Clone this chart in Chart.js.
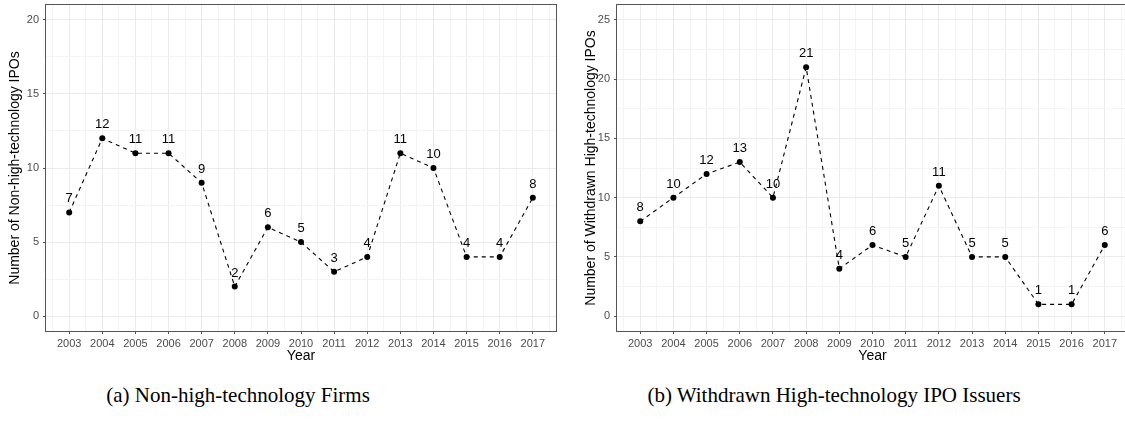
<!DOCTYPE html>
<html>
<head>
<meta charset="utf-8">
<script src="https://cdn.jsdelivr.net/npm/chart.js@4/dist/chart.umd.min.js"></script>
<style>
  html, body { margin: 0; padding: 0; background: #fff; }
  body { width: 1125px; height: 421px; overflow: hidden; position: relative; }
  canvas { position: absolute; top: 0; }
  #chartA { left: 0; }
  #chartB { left: 560px; }
  .caption {
    position: absolute; top: 385px; line-height: 1;
    font-family: 'Liberation Serif', 'DejaVu Serif', serif; font-size: 21px;
    color: #000; white-space: nowrap; transform: translateX(-50%);
  }
</style>
</head>
<body>
<canvas id="chartA" width="560" height="370"></canvas>
<canvas id="chartB" width="572" height="370"></canvas>
<div class="caption" style="left:238px">(a) Non-high-technology Firms</div>
<div class="caption" style="left:834px">(b) Withdrawn High-technology IPO Issuers</div>

<script>
// Yearly counts, 2003-2017
const years = [2003, 2004, 2005, 2006, 2007, 2008, 2009, 2010, 2011, 2012, 2013, 2014, 2015, 2016, 2017];
const nonHighTechIPOs = [7, 12, 11, 11, 9, 2, 6, 5, 3, 4, 11, 10, 4, 4, 8];
const withdrawnHighTechIPOs = [8, 10, 12, 13, 10, 21, 4, 6, 5, 11, 5, 5, 1, 1, 6];

// Axis tick labels
const xTickLabels = years;
const yTickLabelsA = [0, 5, 10, 15, 20];
const yTickLabelsB = [0, 5, 10, 15, 20, 25];

const SANS = "'Liberation Sans', Arial, Helvetica, sans-serif";
Chart.defaults.font.family = SANS;

// Major ticks carry labels; minor ticks sit halfway between them (grid only)
function withMinor(major, extendBefore, extendAfter) {
  const step = major[1] - major[0];
  const all = [];
  if (extendBefore) all.push(major[0] - step / 2);
  major.forEach((v, i) => {
    all.push(v);
    if (i < major.length - 1 || extendAfter) all.push(v + step / 2);
  });
  return all;
}

// Value labels above each point
const valueLabels = {
  id: 'valueLabels',
  afterDatasetsDraw(chart) {
    const { ctx } = chart;
    const meta = chart.getDatasetMeta(0);
    const pts = chart.data.datasets[0].data;
    ctx.save();
    ctx.font = '13px ' + SANS;
    ctx.fillStyle = '#000';
    ctx.textAlign = 'center';
    ctx.textBaseline = 'alphabetic';
    meta.data.forEach((el, i) => ctx.fillText(String(pts[i].y), el.x, el.y - 10));
    ctx.restore();
  }
};

// Panel frame (theme_bw style)
const panelFrame = {
  id: 'panelFrame',
  afterDraw(chart) {
    const { ctx, chartArea: a } = chart;
    ctx.save();
    ctx.strokeStyle = '#555';
    ctx.lineWidth = 1;
    ctx.strokeRect(Math.round(a.left) - 0.5, Math.round(a.top) - 0.5,
                   Math.round(a.right - a.left) + 1, Math.round(a.bottom - a.top) + 1);
    ctx.restore();
  }
};

function noEdgePadding(s) {
  s.paddingTop = 0; s.paddingBottom = 0; s.paddingLeft = 0; s.paddingRight = 0;
}

function makeChart(id, values, yLabels, yMin, yMax, yTitle, opts) {
  const xMajor = new Set(xTickLabels);
  const yMajor = new Set(yLabels);
  const xAll = withMinor(xTickLabels, true, true);
  const yAll = withMinor(yLabels, false, false);

  const gridFor = (majorSet) => ({
    color: (c) => c.tick && majorSet.has(c.tick.value) ? '#EBEBEB' : '#F4F4F4',
    lineWidth: 1,
    drawTicks: true,
    tickLength: 3,
    tickColor: (c) => c.tick && majorSet.has(c.tick.value) ? '#555' : 'rgba(0,0,0,0)',
    tickWidth: 1
  });

  return new Chart(document.getElementById(id), {
    type: 'line',
    data: {
      datasets: [{
        data: years.map((yr, i) => ({ x: yr, y: values[i] })),
        borderColor: '#000',
        borderWidth: 1.1,
        borderDash: [4, 4],
        tension: 0,
        pointRadius: 3,
        pointBackgroundColor: '#000',
        pointBorderColor: '#000',
        pointBorderWidth: 0,
        clip: false
      }]
    },
    options: {
      responsive: false,
      devicePixelRatio: 1,
      animation: false,
      events: [],
      layout: { padding: { top: 5, right: opts.padRight, left: 0, bottom: 0 } },
      plugins: { legend: { display: false }, tooltip: { enabled: false } },
      scales: {
        x: {
          type: 'linear',
          min: 2002.3, max: 2017.7,
          afterBuildTicks: (s) => { s.ticks = xAll.map(v => ({ value: v })); },
          afterFit: (s) => { s.height = 39; noEdgePadding(s); },
          border: { display: false },
          grid: gridFor(xMajor),
          ticks: {
            autoSkip: false, maxRotation: 0, padding: 3,
            color: '#4D4D4D', font: { size: 11 },
            callback: (v) => xMajor.has(v) ? String(v) : ''
          },
          title: {
            display: true, text: 'Year', color: '#000',
            font: { size: 14 }, padding: { top: 0, bottom: 5 }
          }
        },
        y: {
          type: 'linear',
          min: yMin, max: yMax,
          afterBuildTicks: (s) => { s.ticks = yAll.map(v => ({ value: v })); },
          afterFit: (s) => { s.width = opts.yWidth; noEdgePadding(s); },
          border: { display: false },
          grid: gridFor(yMajor),
          ticks: {
            autoSkip: false, padding: 4,
            color: '#4D4D4D', font: { size: 11 },
            callback: (v) => yMajor.has(v) ? String(v) : ''
          },
          title: {
            display: true, text: yTitle, color: '#000',
            font: { size: 14 }, padding: { top: opts.titlePad, bottom: 0 }
          }
        }
      }
    },
    plugins: [valueLabels, panelFrame]
  });
}

makeChart('chartA', nonHighTechIPOs, yTickLabelsA, -1, 21,
  'Number of Non-high-technology IPOs', { yWidth: 46, padRight: 1, titlePad: 7 });
makeChart('chartB', withdrawnHighTechIPOs, yTickLabelsB, -1.25, 26.25,
  'Number of Withdrawn High-technology IPOs', { yWidth: 57, padRight: 2, titlePad: 23 });
</script>
</body>
</html>
